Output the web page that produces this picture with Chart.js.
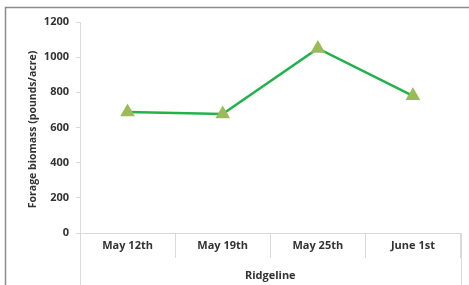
<!DOCTYPE html>
<html>
<head>
<meta charset="utf-8">
<script src="https://cdn.jsdelivr.net/npm/chart.js@4.4.0/dist/chart.umd.min.js"></script>
<style>
  html, body { margin: 0; padding: 0; background: #fff; }
  #wrap { width: 469px; height: 285px; position: relative; }
</style>
</head>
<body>
<div id="wrap"><canvas id="c" width="469" height="285"></canvas></div>
<script>
const categories = ["May 12th", "May 19th", "May 25th", "June 1st"];
const biomass = [688, 677, 1050, 780];
const groupLabel = "Ridgeline";
const yTitle = "Forage biomass (pounds/acre)";
const yTicks = [0, 200, 400, 600, 800, 1000, 1200];

const FONT = "'Open Sans', sans-serif";
const TXT = '#333333';
const AX = '#d9d9d9';

const framePlugin = {
  id: 'frame',
  beforeDraw(chart) {
    const ctx = chart.ctx;
    ctx.save();
    ctx.strokeStyle = '#8c8c8c';
    ctx.lineWidth = 1.5;
    ctx.beginPath();
    ctx.moveTo(5.5, 290);
    ctx.lineTo(5.5, 7.5);
    ctx.lineTo(475, 7.5);
    ctx.stroke();
    ctx.restore();
  },
  afterDraw(chart) {
    const ctx = chart.ctx;
    const a = chart.chartArea;
    ctx.save();
    ctx.strokeStyle = AX;
    ctx.lineWidth = 1;
    [a.left, a.right].forEach(px => {
      ctx.beginPath();
      ctx.moveTo(Math.round(px) + 0.5, a.bottom);
      ctx.lineTo(Math.round(px) + 0.5, chart.height);
      ctx.stroke();
    });
    // y axis title
    ctx.fillStyle = TXT;
    ctx.font = "bold 10.5px " + FONT;
    ctx.textAlign = 'center';
    ctx.textBaseline = 'middle';
    ctx.translate(33, (a.top + a.bottom) / 2 + 2);
    ctx.rotate(-Math.PI / 2);
    ctx.fillText(yTitle, 0, 0);
    ctx.restore();
  }
};

new Chart(document.getElementById('c'), {
  type: 'line',
  data: {
    labels: categories,
    datasets: [{
      data: biomass,
      borderColor: '#22b24c',
      borderWidth: 2.5,
      pointStyle: 'triangle',
      pointRadius: 6,
      pointBackgroundColor: '#9bbb59',
      pointBorderColor: '#9bbb59',
      tension: 0
    }]
  },
  options: {
    responsive: false,
    animation: false,
    layout: { padding: { left: 0, top: 22, right: 8, bottom: 0 } },
    plugins: { legend: { display: false }, tooltip: { enabled: false } },
    scales: {
      x: {
        offset: true,
        grid: { offset: true, drawOnChartArea: false, tickLength: 25, color: AX },
        border: { color: AX },
        ticks: { color: TXT, font: { family: FONT, size: 11, weight: 'bold' }, padding: -19 },
        title: { display: true, text: groupLabel, color: TXT, font: { family: FONT, size: 11, weight: 'bold' }, padding: { top: 0, bottom: 3 } },
        afterFit(s) { s.height = 52; }
      },
      y: {
        min: 0, max: 1200,
        afterBuildTicks(s) { s.ticks = yTicks.map(v => ({ value: v })); },
        grid: { drawOnChartArea: false, tickLength: 4, color: AX },
        border: { color: AX },
        ticks: { color: TXT, font: { family: FONT, size: 11, weight: 'bold' }, padding: 7, callback: v => String(v) },
        title: { display: false, text: yTitle },
        afterFit(s) { s.width = 80; }
      }
    }
  },
  plugins: [framePlugin]
});
</script>
</body>
</html>
